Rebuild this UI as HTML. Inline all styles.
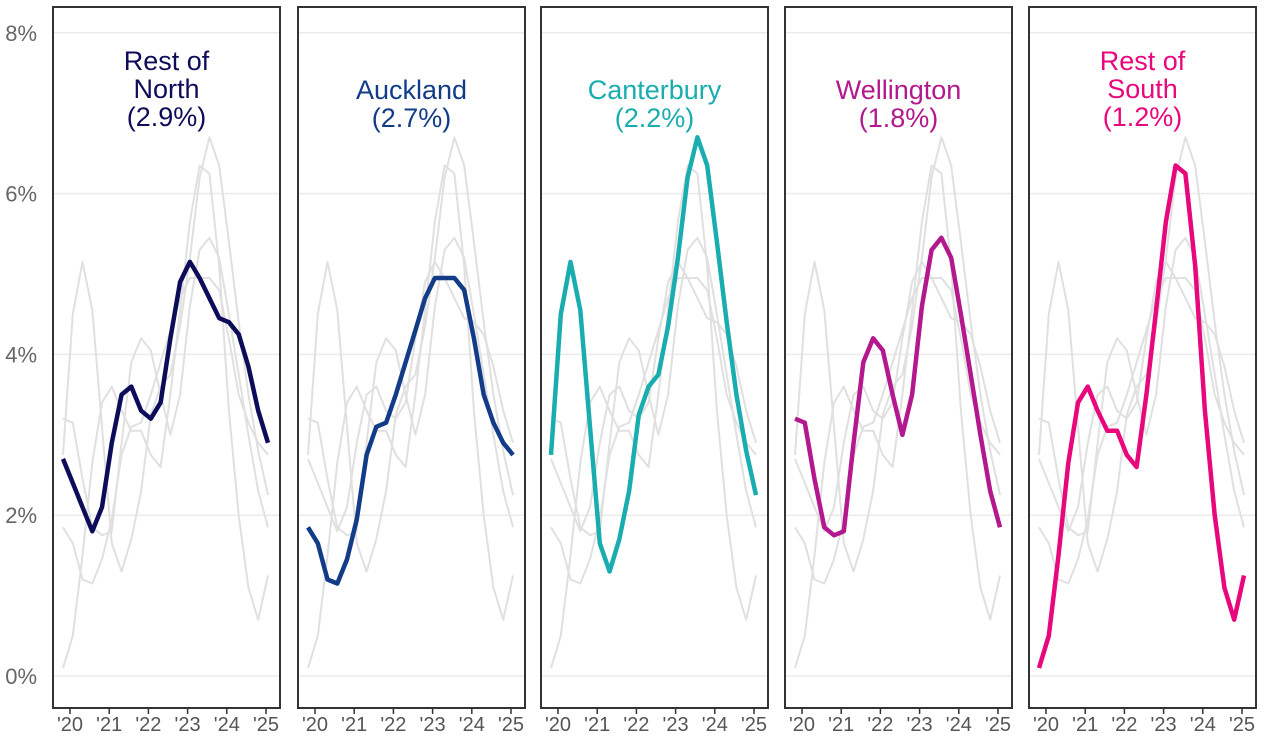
<!DOCTYPE html>
<html><head><meta charset="utf-8"><style>
html,body{margin:0;padding:0;background:#fff;}
svg{display:block;font-family:"Liberation Sans",sans-serif;}
</style></head><body>
<svg id="c" width="1280" height="754" viewBox="0 0 1280 754"></svg>
<script>
const S=[
 {n:["Rest of","North","(2.9%)"],c:"#0c0c5a",d:[2.7,2.4,2.1,1.8,2.1,2.9,3.5,3.6,3.3,3.2,3.4,4.2,4.9,5.15,4.95,4.7,4.45,4.4,4.25,3.85,3.3,2.9]},
 {n:["Auckland","(2.7%)"],c:"#133c88",d:[1.85,1.65,1.2,1.15,1.45,1.95,2.75,3.1,3.15,3.5,3.9,4.3,4.7,4.95,4.95,4.95,4.8,4.2,3.5,3.15,2.9,2.75]},
 {n:["Canterbury","(2.2%)"],c:"#19adb0",d:[2.75,4.5,5.15,4.55,3.1,1.65,1.3,1.7,2.3,3.25,3.6,3.75,4.35,5.2,6.2,6.7,6.35,5.4,4.4,3.5,2.8,2.25]},
 {n:["Wellington","(1.8%)"],c:"#b3188e",d:[3.2,3.15,2.45,1.85,1.75,1.8,2.9,3.9,4.2,4.05,3.5,3.0,3.5,4.6,5.3,5.45,5.2,4.5,3.75,3.0,2.3,1.85]},
 {n:["Rest of","South","(1.2%)"],c:"#e8077c",d:[0.1,0.5,1.5,2.65,3.4,3.6,3.3,3.05,3.05,2.75,2.6,3.5,4.55,5.65,6.35,6.25,5.1,3.3,2.0,1.1,0.7,1.25]}
];
const L=[53,298,541,785,1029],W=227,T=7,B=708;
const y=v=>676-v*80.4;
let h='';
// y labels
[0,2,4,6,8].forEach(v=>{h+=`<text x="37" y="${y(v)+8}" font-size="22" fill="#666" text-anchor="end">${v}%</text>`;});
L.forEach((l,p)=>{
 [0,2,4,6,8].forEach(v=>{h+=`<line x1="${l}" x2="${l+W}" y1="${y(v)}" y2="${y(v)}" stroke="#ebebeb" stroke-width="1.5"/>`;});
 const pts=d=>d.map((v,i)=>`${(l+10+i*9.76).toFixed(1)},${y(v).toFixed(1)}`).join(' ');
 S.forEach((s,q)=>{if(q!==p)h+=`<polyline points="${pts(s.d)}" fill="none" stroke="#e0e0e0" stroke-width="2" stroke-linejoin="round"/>`;});
 const s=S[p];
 h+=`<polyline points="${pts(s.d)}" fill="none" stroke="${s.c}" stroke-width="4.5" stroke-linejoin="round"/>`;
 const n=s.n.length, y0=n===3?70:99;
 s.n.forEach((t,i)=>{h+=`<text x="${l+W/2}" y="${y0+i*28}" font-size="27" fill="${s.c}" text-anchor="middle">${t}</text>`;});
 h+=`<rect x="${l}" y="${T}" width="${W}" height="${B-T}" fill="none" stroke="#333" stroke-width="2"/>`;
 ['20','21','22','23','24','25'].forEach((t,i)=>{const x=l+17+i*39.2;
  h+=`<line x1="${x}" x2="${x}" y1="${B}" y2="${B+6}" stroke="#333" stroke-width="1.5"/>`;
  h+=`<text x="${x}" y="${B+23}" font-size="20" fill="#555" text-anchor="middle">'${t}</text>`;});
});
document.getElementById('c').innerHTML=h;
</script>
</body></html>
